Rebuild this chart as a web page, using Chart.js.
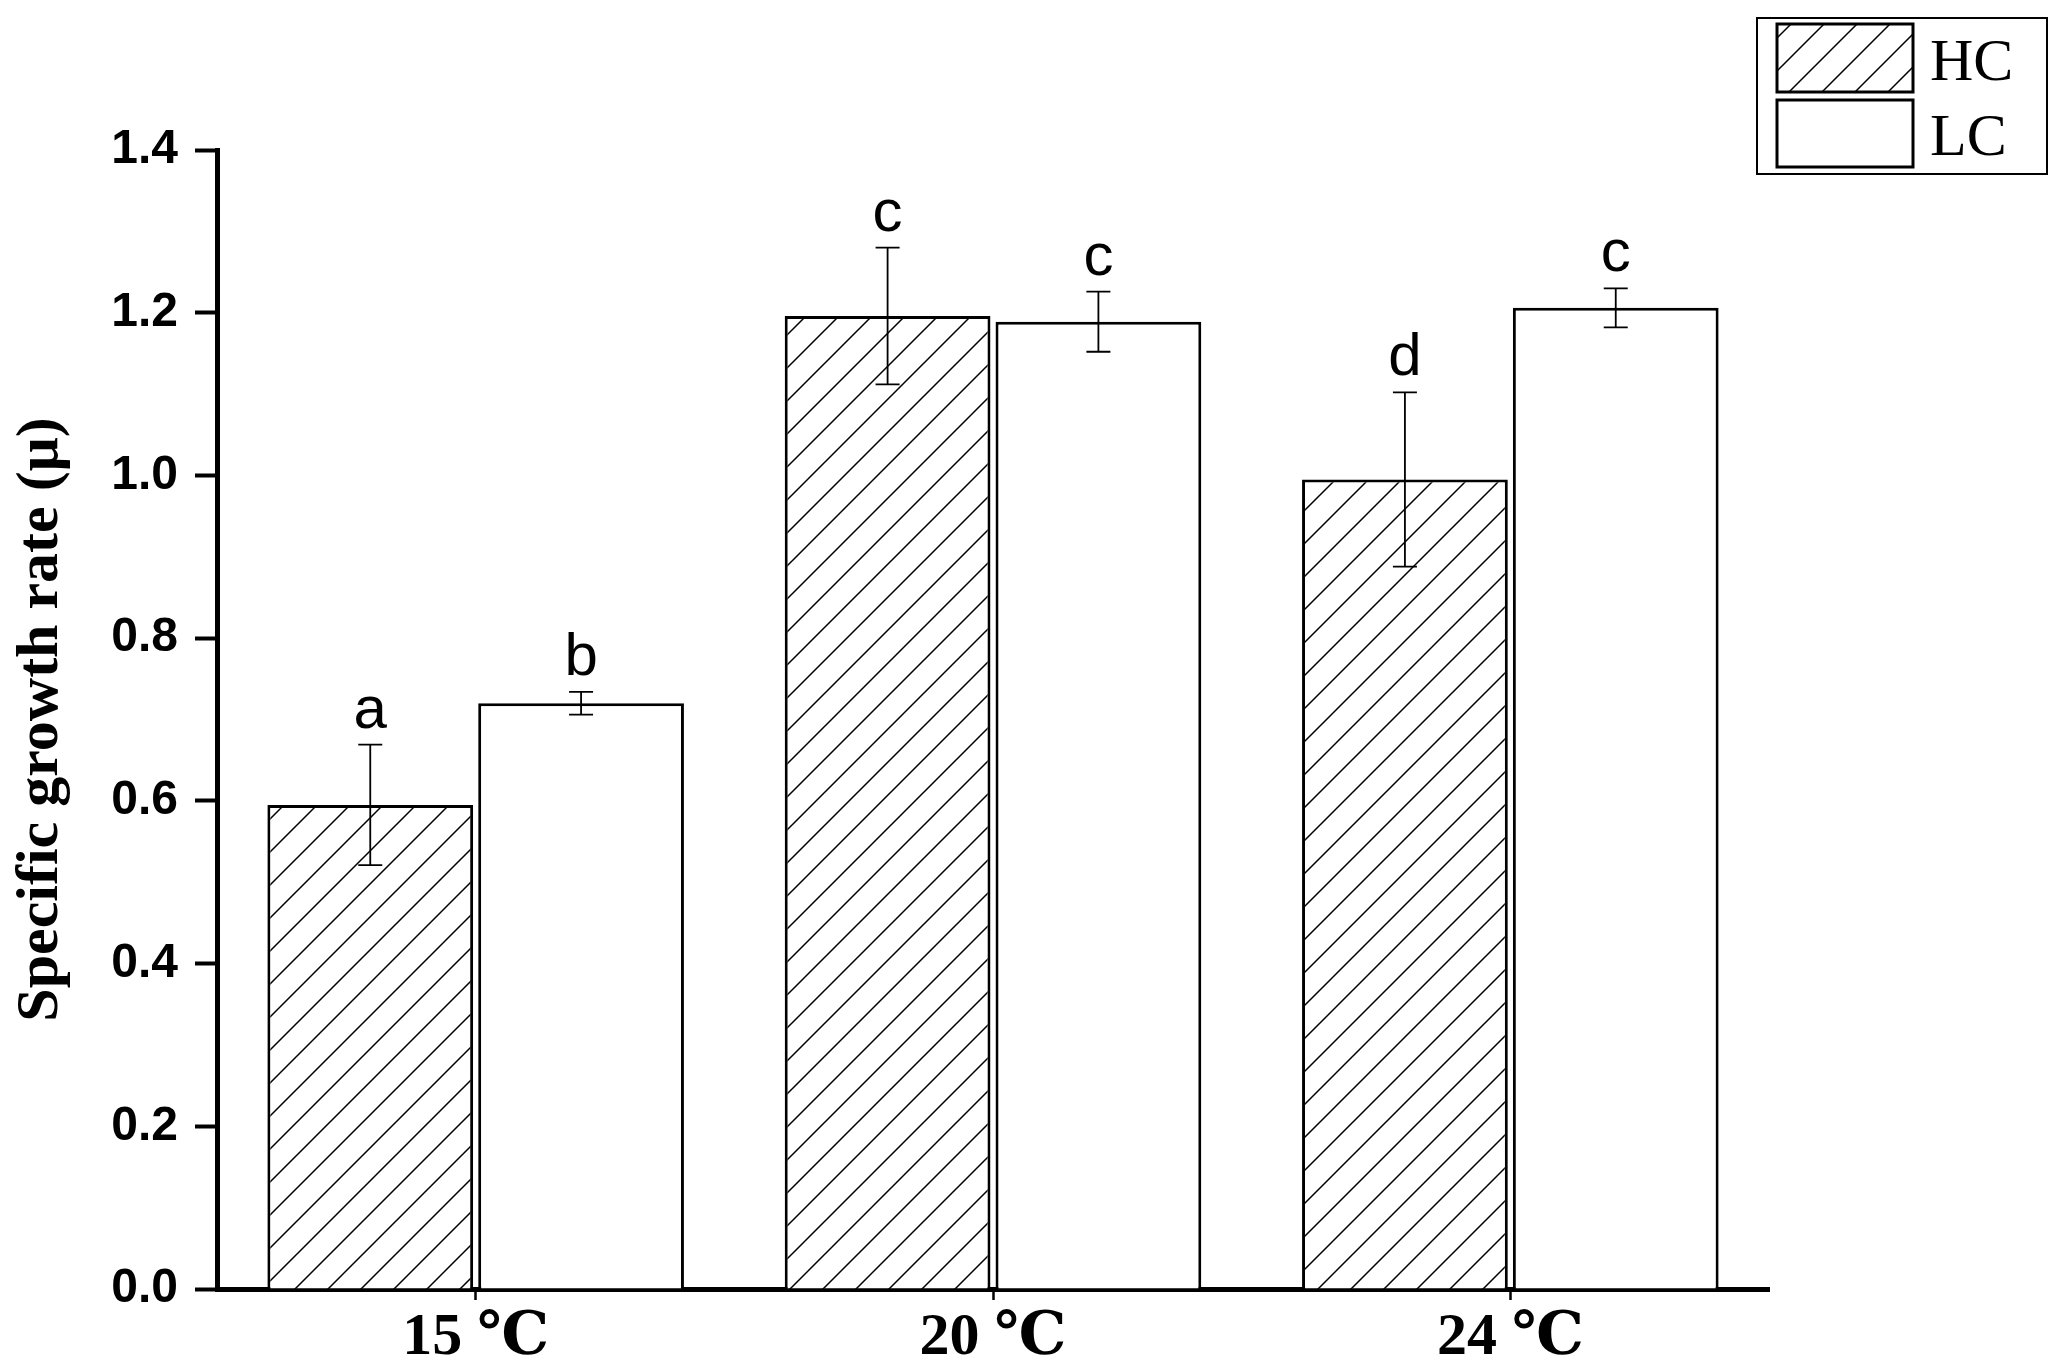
<!DOCTYPE html>
<html>
<head>
<meta charset="utf-8">
<script src="https://cdn.jsdelivr.net/npm/chart.js@4/dist/chart.umd.min.js"></script>
<style>
  html, body { margin: 0; padding: 0; background: #fff; }
  #wrap { width: 2067px; height: 1372px; }
</style>
</head>
<body>
<div id="wrap"><canvas id="growthChart" width="2067" height="1372"></canvas></div>
<script>
const categories = ["15 ℃", "20 ℃", "24 ℃"];
const seriesNames = ["HC", "LC"];

const hcValues = [0.595, 1.196, 0.995];
const hcErrors = [0.074, 0.084, 0.107];
const hcLetters = ["a", "c", "d"];

const lcValues = [0.720, 1.189, 1.206];
const lcErrors = [0.014, 0.037, 0.024];
const lcLetters = ["b", "c", "c"];

const yMin = 0;
const yMax = 1.4;
const yStep = 0.2;

function makeHatch() {
  const size = 33;
  const c = document.createElement("canvas");
  c.width = size;
  c.height = size;
  const g = c.getContext("2d");
  g.fillStyle = "#fff";
  g.fillRect(0, 0, size, size);
  g.strokeStyle = "#000";
  g.lineWidth = 1.5;
  g.beginPath();
  g.moveTo(-2, size + 2);
  g.lineTo(size + 2, -2);
  g.moveTo(-2, 2);
  g.lineTo(2, -2);
  g.moveTo(size - 2, size + 2);
  g.lineTo(size + 2, size - 2);
  g.stroke();
  return g.createPattern(c, "repeat");
}

const hatch = makeHatch();

// error bars + significance letters, read from the dataset meta
const errorBars = {
  id: "errorBars",
  afterDatasetsDraw(chart) {
    const ctx = chart.ctx;
    const y = chart.scales.y;
    const errs = [hcErrors, lcErrors];
    const letters = [hcLetters, lcLetters];
    ctx.save();
    chart.data.datasets.forEach((ds, i) => {
      const meta = chart.getDatasetMeta(i);
      meta.data.forEach((bar, j) => {
        const v = ds.data[j];
        const top = y.getPixelForValue(v + errs[i][j]);
        const bot = y.getPixelForValue(v - errs[i][j]);
        const x = bar.x;
        ctx.strokeStyle = "#000";
        ctx.lineWidth = 1.8;
        ctx.beginPath();
        ctx.moveTo(x, top);
        ctx.lineTo(x, bot);
        ctx.moveTo(x - 12, top);
        ctx.lineTo(x + 12, top);
        ctx.moveTo(x - 12, bot);
        ctx.lineTo(x + 12, bot);
        ctx.stroke();

        ctx.fillStyle = "#000";
        ctx.font = '60px "Liberation Sans", Arial, sans-serif';
        ctx.textAlign = "center";
        ctx.textBaseline = "alphabetic";
        ctx.fillText(letters[i][j], x, top - 17);
      });
    });
    ctx.restore();
  }
};

// boxed legend in the top right corner
const boxLegend = {
  id: "boxLegend",
  afterDraw(chart) {
    const ctx = chart.ctx;
    const left = chart.width - 310;
    ctx.save();
    ctx.strokeStyle = "#000";
    ctx.lineWidth = 2;
    ctx.strokeRect(left, 18, 290, 156);

    const rows = [
      { y: 24, h: 68, base: 80 },
      { y: 100, h: 67, base: 155 }
    ];
    chart.data.datasets.forEach((ds, i) => {
      const r = rows[i];
      ctx.fillStyle = ds.backgroundColor;
      ctx.fillRect(left + 20, r.y, 136, r.h);
      ctx.lineWidth = 3;
      ctx.strokeRect(left + 20, r.y, 136, r.h);
      ctx.fillStyle = "#000";
      ctx.font = '60px "Liberation Serif", "Times New Roman", serif';
      ctx.textAlign = "left";
      ctx.textBaseline = "alphabetic";
      ctx.fillText(ds.label, left + 173, r.base);
    });
    ctx.restore();
  }
};

new Chart(document.getElementById("growthChart"), {
  type: "bar",
  data: {
    labels: categories,
    datasets: [
      {
        label: seriesNames[0],
        data: hcValues,
        backgroundColor: hatch,
        borderColor: "#000",
        borderWidth: 3,
        borderSkipped: "start",
        categoryPercentage: 0.815,
        barPercentage: 0.976
      },
      {
        label: seriesNames[1],
        data: lcValues,
        backgroundColor: "#fff",
        borderColor: "#000",
        borderWidth: 3,
        borderSkipped: "start",
        categoryPercentage: 0.815,
        barPercentage: 0.976
      }
    ]
  },
  options: {
    responsive: false,
    animation: false,
    layout: {
      padding: { top: 150, right: 298, left: 0, bottom: 0 }
    },
    plugins: {
      legend: { display: false },
      tooltip: { enabled: false }
    },
    scales: {
      x: {
        afterFit(scale) { scale.height = 83; },
        grid: {
          offset: false,
          drawOnChartArea: false,
          drawTicks: true,
          tickLength: 11,
          tickWidth: 2.5,
          tickColor: "#000"
        },
        border: { display: true, color: "#000", width: 5 },
        ticks: {
          color: "#000",
          padding: 2,
          font: { family: '"Liberation Serif", "DejaVu Serif", "Times New Roman", serif', size: 60, weight: "bold" }
        }
      },
      y: {
        min: yMin,
        max: yMax,
        afterFit(scale) { scale.width = 217; },
        grid: {
          drawOnChartArea: false,
          drawTicks: true,
          tickLength: 22,
          tickWidth: 4,
          tickColor: "#000"
        },
        border: { display: true, color: "#000", width: 5 },
        ticks: {
          stepSize: yStep,
          color: "#000",
          padding: 17,
          font: { family: '"Liberation Sans", Arial, sans-serif', size: 48, weight: "bold" },
          callback: v => v.toFixed(1)
        },
        title: {
          display: true,
          text: "Specific growth rate (μ)",
          color: "#000",
          padding: { top: 5, bottom: 0 },
          font: { family: '"Liberation Serif", "Times New Roman", serif', size: 60, weight: "bold" }
        }
      }
    }
  },
  plugins: [errorBars, boxLegend]
});
</script>
</body>
</html>
